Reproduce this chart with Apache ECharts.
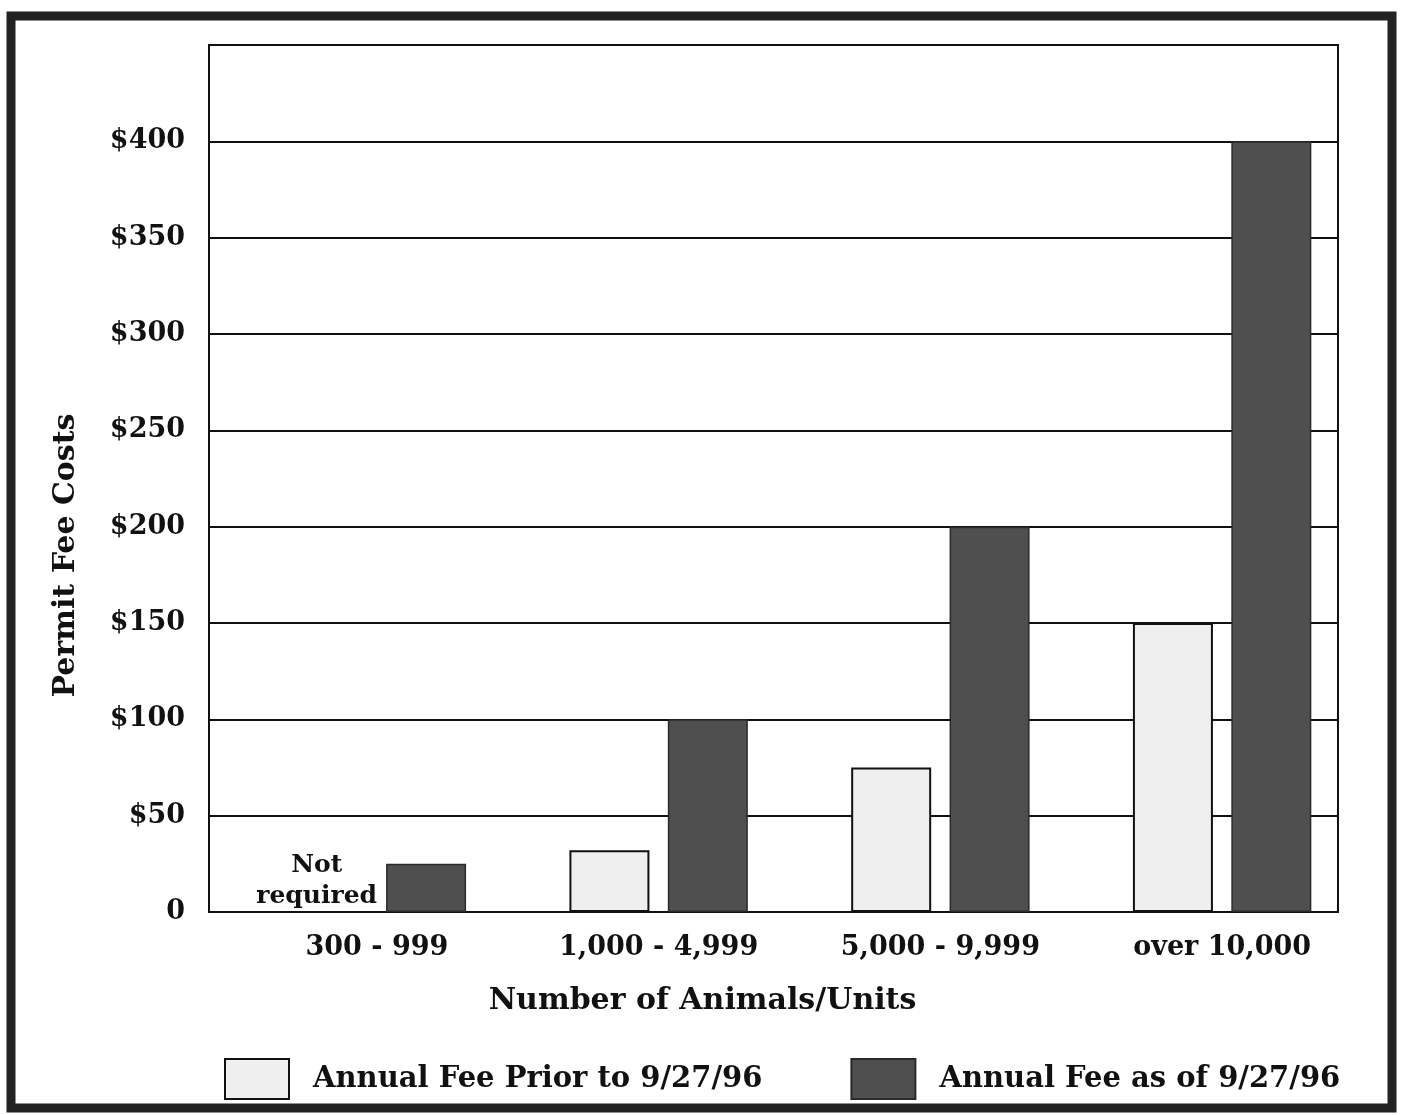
<!DOCTYPE html>
<html>
<head>
<meta charset="utf-8">
<script src="https://cdn.jsdelivr.net/npm/echarts@6/dist/echarts.min.js"></script>
<style>
  html, body { margin: 0; padding: 0; background: #ffffff; }
  #chart { width: 1401px; height: 1115px; }
</style>
</head>
<body>
<div id="chart"></div>
<script>
// Animal-unit size classes on the horizontal axis
const categories = ['300 - 999', '1,000 - 4,999', '5,000 - 9,999', 'over 10,000'];
// Permit fees in dollars (smallest class had no fee before the change)
const feePrior = [0, 32, 75, 150];
const feeCurrent = [25, 100, 200, 400];
// Value axis ticks
const yTicks = [0, 50, 100, 150, 200, 250, 300, 350, 400];
const seriesNames = ['Annual Fee Prior to 9/27/96', 'Annual Fee as of 9/27/96'];

const FONT = '"DejaVu Serif", "Liberation Serif", serif';
const INK = '#111111';

const chart = echarts.init(document.getElementById('chart'), null, { renderer: 'canvas' });

const yMax = 450;
const yStep = yTicks[1] - yTicks[0];

chart.setOption({
  animation: false,
  backgroundColor: '#ffffff',
  textStyle: { fontFamily: FONT },
  graphic: [{
    type: 'rect',
    shape: { x: 11, y: 16, width: 1381, height: 1092 },
    style: { fill: 'none', stroke: '#222222', lineWidth: 9 },
    silent: true
  }],
  grid: [
    // framed plot with value scale and rules
    { left: 209, right: 63, top: 45, bottom: 203, show: true, borderColor: INK, borderWidth: 2, backgroundColor: 'transparent' },
    // bar placement
    { left: 236, right: 38, top: 45, bottom: 203 }
  ],
  xAxis: [
    {
      gridIndex: 0, type: 'category', data: categories,
      axisLine: { show: true, lineStyle: { color: INK, width: 2 } },
      axisTick: { show: false }, axisLabel: { show: false }, splitLine: { show: false }
    },
    {
      gridIndex: 1, type: 'category', data: categories,
      axisLine: { show: false }, axisTick: { show: false },
      axisLabel: { show: true, margin: 22, fontSize: 27, fontWeight: 'bold', color: INK, fontFamily: FONT },
      name: 'Number of Animals/Units', nameLocation: 'middle', nameGap: 74,
      nameTextStyle: { fontSize: 30, fontWeight: 'bold', color: INK, fontFamily: FONT, padding: [0, 194, 0, 0] }
    }
  ],
  yAxis: [
    {
      gridIndex: 0, type: 'value', min: 0, max: yMax, interval: yStep,
      axisLine: { show: true, lineStyle: { color: INK, width: 2 } },
      axisTick: { show: false },
      splitLine: { show: true, lineStyle: { color: INK, width: 2 } },
      axisLabel: {
        margin: 24, fontSize: 27, fontWeight: 'bold', color: INK, fontFamily: FONT,
        formatter: v => (yTicks.indexOf(v) < 0 ? '' : (v === 0 ? '0' : '$' + v))
      },
      name: 'Permit Fee Costs', nameLocation: 'middle', nameGap: 128,
      nameTextStyle: { fontSize: 30, fontWeight: 'bold', color: INK, fontFamily: FONT, padding: [0, 154, 0, 0] }
    },
    {
      gridIndex: 1, type: 'value', min: 0, max: yMax, interval: yStep,
      show: false, splitLine: { show: false }
    }
  ],
  legend: {
    left: 224, top: 1058, padding: 0, icon: 'rect',
    itemWidth: 64, itemHeight: 40, itemGap: 88,
    textStyle: { fontSize: 29, fontWeight: 'bold', color: INK, fontFamily: FONT, padding: [0, 0, 0, 19] },
    data: seriesNames
  },
  series: [
    {
      name: seriesNames[0], type: 'bar', xAxisIndex: 1, yAxisIndex: 1,
      barWidth: 80, barGap: '23%',
      itemStyle: { color: '#efefef', borderColor: INK, borderWidth: 2 },
      data: feePrior.map(v => v === 0 ? {
        value: v,
        itemStyle: { color: 'transparent', borderWidth: 0 },
        label: {
          show: true, position: 'top', distance: 0, offset: [-11, 0], formatter: 'Not\nrequired',
          fontSize: 25, fontWeight: 'bold', color: INK, fontFamily: FONT, lineHeight: 31, align: 'center'
        }
      } : v)
    },
    {
      name: seriesNames[1], type: 'bar', xAxisIndex: 1, yAxisIndex: 1,
      barWidth: 80,
      itemStyle: { color: '#4f4f4f', borderColor: '#2a2a2a', borderWidth: 1.5 },
      data: feeCurrent
    }
  ]
});
</script>
</body>
</html>
